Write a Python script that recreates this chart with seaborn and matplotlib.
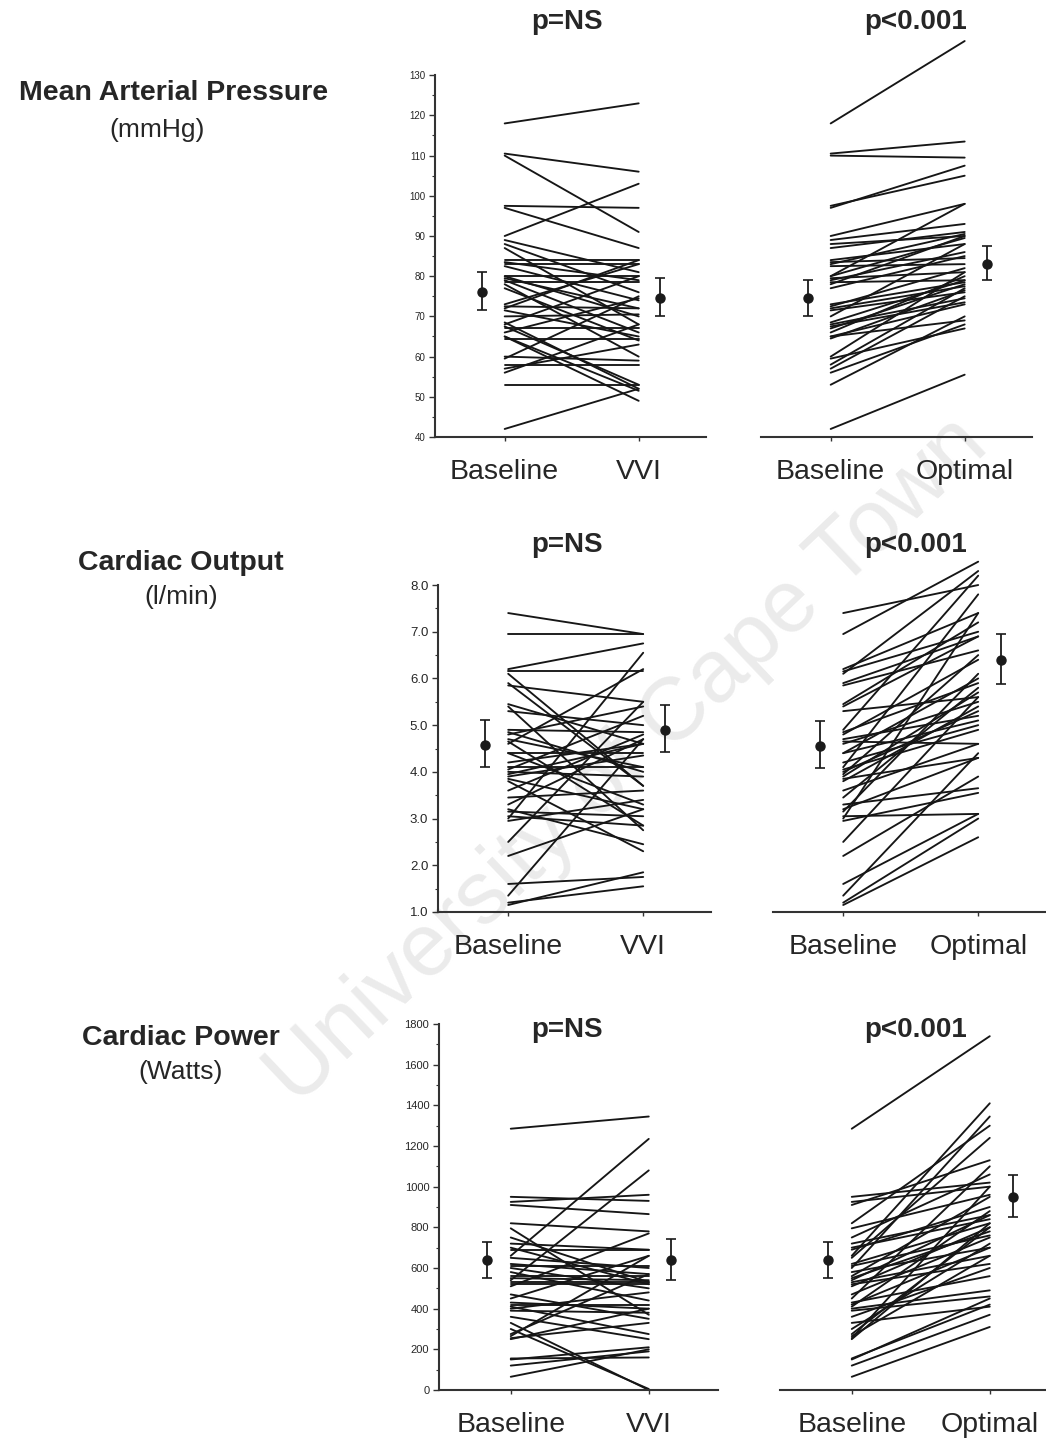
import numpy as np
import pandas as pd
import seaborn as sns
import matplotlib
matplotlib.use("Agg")
import matplotlib.pyplot as plt
from matplotlib.ticker import MultipleLocator

sns.set_style("ticks")
plt.rcParams["font.family"] = ["Liberation Sans", "DejaVu Sans"]

# ---- data (one value per patient) ----
map_base = [118, 110.5, 110, 97.5, 97, 90, 89, 88, 87, 84, 83.5, 83, 82.5, 80, 79.5,
            79, 78.5, 78, 77, 73, 72.5, 72, 71.5, 70, 68.5, 68, 67.5, 67, 66, 65,
            64.5, 60, 59.5, 58, 57, 56, 53, 42, 65, 80]
map_vvi = [123, 106, 91, 97, 87, 103, 81, 76, 68, 84, 79, 83, 74, 80, 72,
           66, 78.5, 60, 64, 83, 72, 84, 65, 70.5, 52, 80, 53, 67, 74.5, 51.5,
           64.5, 59, 75, 58, 63, 68, 53, 52, 49, 70]
map_opt = [138.5, 113.5, 109.5, 105, 107.5, 98, 93, 90, 91, 88, 84.5, 90.5, 83, 98, 81,
           86, 79, 90, 85, 78.5, 82, 77.5, 76, 88, 79, 74.5, 73.5, 78, 80, 69,
           76.5, 81, 67, 77, 75, 68, 70, 55.5, 73, 89.5]

co_base = [7.4, 6.95, 6.2, 6.15, 6.1, 5.85, 5.45, 5.4, 5.3, 4.9, 4.8, 4.7, 4.6, 4.4, 4.4,
           4.1, 4.05, 4.0, 3.95, 3.85, 3.8, 3.6, 3.45, 3.3, 3.2, 3.15, 3.05, 3.0, 2.95, 2.5,
           2.2, 1.6, 1.35, 1.15, 1.2, 4.85, 5.9, 3.9, 4.2, 4.65]
co_vvi = [6.95, 6.95, 6.75, 6.15, 3.7, 5.5, 4.6, 2.75, 5.0, 4.85, 5.4, 4.1, 6.2, 4.4, 3.3,
          4.1, 5.2, 3.9, 4.6, 3.2, 2.3, 4.8, 3.6, 4.7, 2.45, 3.05, 2.85, 6.55, 3.4, 5.5,
          3.2, 1.75, 4.7, 1.85, 1.55, 4.0, 3.7, 4.35, 4.6, 2.85]
co_opt = [8.0, 8.5, 7.4, 7.0, 8.3, 6.6, 7.2, 6.9, 5.6, 8.2, 6.4, 5.2, 5.5, 6.0, 5.1,
          7.8, 4.9, 5.3, 6.5, 4.3, 5.4, 4.6, 5.8, 3.65, 4.3, 6.1, 3.1, 7.4, 3.55, 5.6,
          3.9, 3.1, 4.4, 2.6, 3.0, 5.9, 6.9, 5.7, 5.0, 4.6]

cp_base = [1285, 950, 925, 910, 820, 795, 750, 720, 690, 660, 650, 620, 610, 600, 580,
           560, 550, 540, 530, 520, 510, 470, 450, 430, 420, 410, 400, 390, 360, 330,
           300, 275, 265, 255, 250, 155, 150, 120, 65, 700]
cp_vvi = [1345, 930, 960, 865, 780, 370, 530, 690, 690, 1235, 600, 570, 610, 500, 440,
          560, 540, 1080, 530, 520, 770, 350, 660, 400, 420, 275, 480, 380, 250, 0,
          5, 570, 660, 330, 400, 160, 210, 190, 200, 520]
cp_opt = [1740, 1020, 1000, 1130, 1300, 960, 1060, 860, 900, 1410, 1240, 820, 760, 1345, 700,
          950, 780, 860, 660, 620, 800, 750, 1100, 560, 700, 880, 490, 460, 600, 410,
          720, 800, 660, 1000, 820, 420, 450, 370, 310, 840]

# mean and error bars: (mean, low, high)
map_mean = {"base_l": (76, 71.5, 81), "vvi": (74.5, 70, 79.5),
            "base_r": (74.5, 70, 79), "opt": (83, 79, 87.5)}
co_mean = {"base_l": (4.58, 4.1, 5.1), "vvi": (4.9, 4.42, 5.43),
           "base_r": (4.55, 4.08, 5.08), "opt": (6.4, 5.88, 6.95)}
cp_mean = {"base_l": (640, 550, 730), "vvi": (640, 540, 745),
           "base_r": (638, 549, 730), "opt": (950, 852, 1057)}

row_titles = ["Mean Arterial Pressure", "Cardiac Output", "Cardiac Power"]
row_units = ["(mmHg)", "(l/min)", "(Watts)"]
left_labels = ["Baseline", "VVI"]
right_labels = ["Baseline", "Optimal"]
p_left = "p=NS"
p_right = "p<0.001"

W, H = 1046, 1450
fig = plt.figure(figsize=(W / 100, H / 100), dpi=100)
fig.patch.set_facecolor("white")

# watermark behind everything
fig.text(0.6, 0.475, "University of Cape Town", fontsize=64, color="#ebebeb",
         rotation=43.5, ha="center", va="center", zorder=-5)


def add_ax(x0, x1, ytop, ybot):
    ax = fig.add_axes([x0 / W, 1 - ybot / H, (x1 - x0) / W, (ybot - ytop) / H])
    ax.set_facecolor("none")
    return ax


def pair_lines(ax, base, other):
    n = len(base)
    df = pd.DataFrame({
        "pid": list(range(n)) * 2,
        "cond": [0] * n + [1] * n,
        "val": list(base) + list(other),
    })
    sns.lineplot(data=df, x="cond", y="val", units="pid", estimator=None,
                 color="#161616", lw=1.35, ax=ax, legend=False)


def mean_bar(ax, xpos, m):
    mean, lo, hi = m
    ax.errorbar([xpos], [mean], yerr=[[mean - lo], [hi - mean]], fmt="o",
                color="#1a1a1a", ms=6.5, capsize=3.5, elinewidth=1.3, capthick=1.2)


rows = [
    dict(base=map_base, a=map_vvi, b=map_opt, mean=map_mean, ylim=(40, 140), bounds=(40, 130),
         major=10, minor=5, fmt="{:.0f}", tsize=7, ytop=35, ybot=437,
         lx=435, rx=761, unit=134),
    dict(base=co_base, a=co_vvi, b=co_opt, mean=co_mean, ylim=(1, 8.6), bounds=(1, 8),
         major=1, minor=0.5, fmt="{:.1f}", tsize=9.5, ytop=557, ybot=912,
         lx=438, rx=773, unit=135),
    dict(base=cp_base, a=cp_vvi, b=cp_opt, mean=cp_mean, ylim=(0, 1800), bounds=(0, 1800),
         major=200, minor=100, fmt="{:.0f}", tsize=8, ytop=1024, ybot=1390,
         lx=439, rx=780, unit=138),
]

title_y = [22, 545, 1030]
label_y = [(93, 130), (563, 597), (1038, 1072)]
label_x = [174, 181, 181]

for i, r in enumerate(rows):
    xl = (-0.52, 1.5)
    width = (xl[1] - xl[0]) * r["unit"]
    axl = add_ax(r["lx"], r["lx"] + width, r["ytop"], r["ybot"])
    axr = add_ax(r["rx"], r["rx"] + width, r["ytop"], r["ybot"])

    pair_lines(axl, r["base"], r["a"])
    pair_lines(axr, r["base"], r["b"])
    mean_bar(axl, -0.17, r["mean"]["base_l"])
    mean_bar(axl, 1.16, r["mean"]["vvi"])
    mean_bar(axr, -0.17, r["mean"]["base_r"])
    mean_bar(axr, 1.17, r["mean"]["opt"])

    for ax, labs in ((axl, left_labels), (axr, right_labels)):
        ax.set_xlim(*xl)
        ax.set_ylim(*r["ylim"])
        ax.set_xlabel("")
        ax.set_ylabel("")
        ax.set_xticks([0, 1])
        ax.set_xticklabels(labs, fontsize=20.5)
        ax.tick_params(axis="x", length=3, width=1, pad=13, color="#333")
        for s in ("top", "right"):
            ax.spines[s].set_visible(False)
        ax.spines["bottom"].set_color("#333")
        ax.spines["bottom"].set_linewidth(1.5)

    axl.spines["left"].set_bounds(*r["bounds"])
    axl.spines["left"].set_color("#333")
    axl.spines["left"].set_linewidth(1.5)
    ticks = np.arange(r["bounds"][0], r["bounds"][1] + r["major"] / 2, r["major"])
    axl.set_yticks(ticks)
    axl.set_yticklabels([r["fmt"].format(t) for t in ticks], fontsize=r["tsize"])
    axl.yaxis.set_minor_locator(MultipleLocator(r["minor"]))
    axl.tick_params(axis="y", which="major", length=4, width=1, pad=3, color="#333")
    axl.tick_params(axis="y", which="minor", length=2.5, width=0.8, color="#333")
    # keep minor ticks inside the spine bounds
    axl.set_yticks([t for t in axl.get_yticks(minor=True)
                    if r["bounds"][0] <= t <= r["bounds"][1]], minor=True)

    axr.spines["left"].set_visible(False)
    axr.set_yticks([])

    # p-value titles
    fig.text(567 / W, 1 - title_y[i] / H, p_left, fontsize=20, fontweight="bold",
             ha="center", va="center")
    fig.text(916 / W, 1 - title_y[i] / H, p_right, fontsize=20, fontweight="bold",
             ha="center", va="center")

    # row labels
    fig.text(label_x[i] / W, 1 - label_y[i][0] / H, row_titles[i], fontsize=20.5,
             fontweight="bold", ha="center", va="center")
    fig.text((label_x[i] - (17 if i == 0 else 0)) / W, 1 - label_y[i][1] / H, row_units[i],
             fontsize=19, ha="center", va="center")

fig.savefig("out.png", dpi=100, facecolor="white")
